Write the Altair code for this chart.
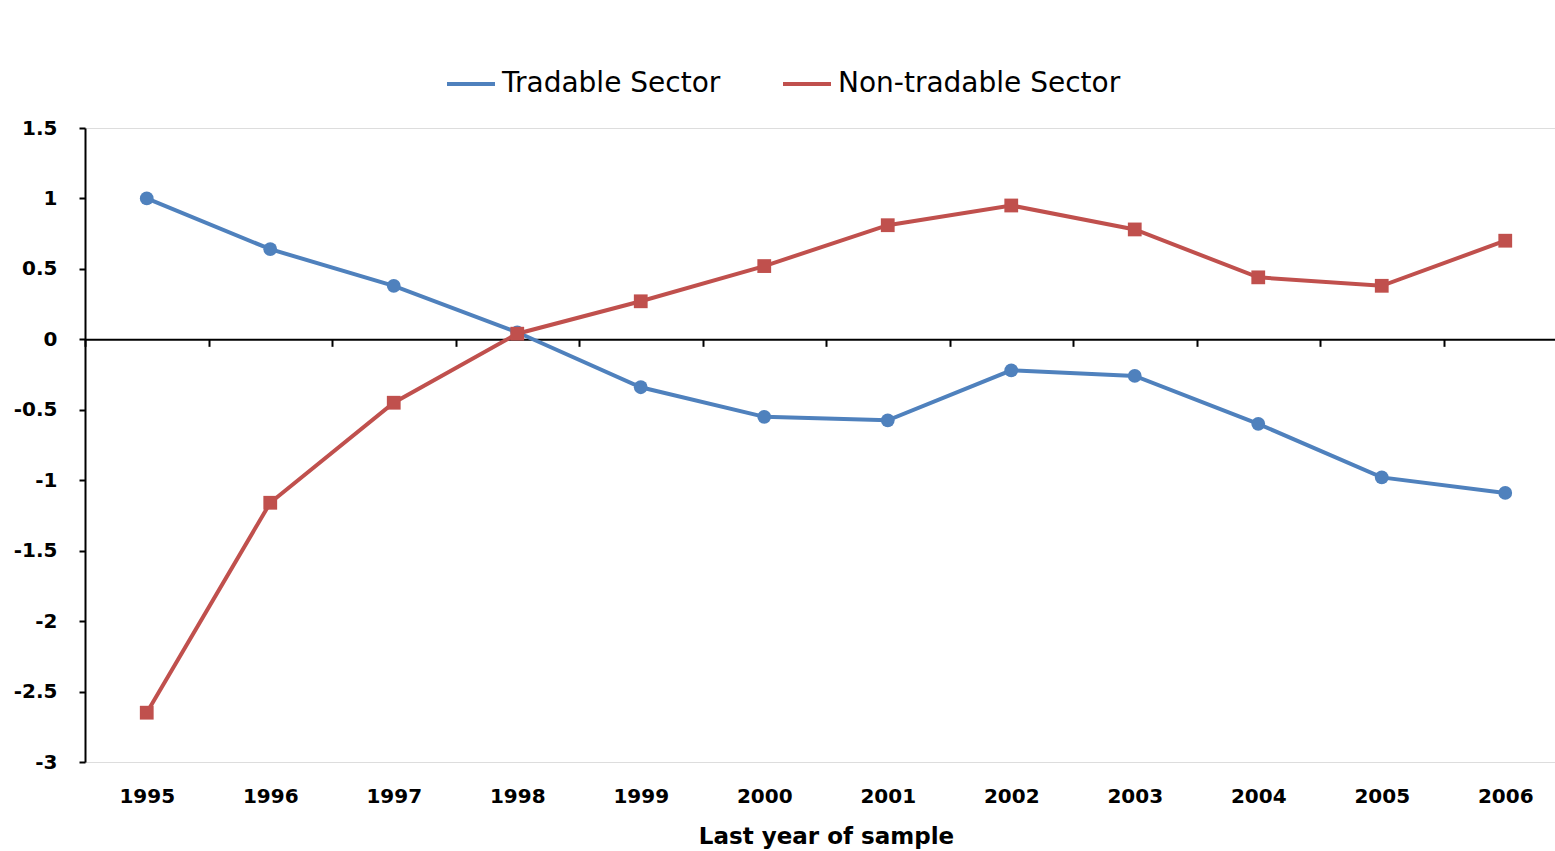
import altair as alt
import pandas as pd

# Regression coefficients by last year of the estimation sample
years = ["1995", "1996", "1997", "1998", "1999", "2000",
         "2001", "2002", "2003", "2004", "2005", "2006"]
tradable = [1.00, 0.64, 0.38, 0.05, -0.34, -0.55,
            -0.575, -0.22, -0.26, -0.60, -0.98, -1.09]
non_tradable = [-2.65, -1.16, -0.45, 0.04, 0.27, 0.52,
                0.81, 0.95, 0.78, 0.44, 0.38, 0.70]

series = ["Tradable Sector", "Non-tradable Sector"]
colors = ["#4F81BD", "#C0504D"]
markers = ["circle", "square"]
y_ticks = [-3, -2.5, -2, -1.5, -1, -0.5, 0, 0.5, 1, 1.5]

df = pd.DataFrame({
    "year": years * 2,
    "value": tradable + non_tradable,
    "series": [series[0]] * len(years) + [series[1]] * len(years),
})

FONT = "DejaVu Sans"
PLOT_W, PLOT_H = 1470, 634
Y_MIN, Y_MAX = -3, 1.5
zero_offset = -PLOT_H * (0 - Y_MIN) / (Y_MAX - Y_MIN)

x_enc = alt.X(
    "year:O",
    scale=alt.Scale(type="band", paddingInner=0, paddingOuter=0, range=[0, 1482]),
    axis=alt.Axis(
        title="Last year of sample",
        orient="bottom",
        offset=zero_offset,
        grid=False,
        domainColor="black",
        domainWidth=2,
        tickBand="extent",
        tickColor="black",
        tickWidth=2,
        tickSize=7,
        labelAngle=0,
        labelPadding=440,
        labelFont=FONT,
        labelFontSize=20,
        labelFontWeight="bold",
        labelColor="black",
        titleFont=FONT,
        titleFontSize=23,
        titleFontWeight="bold",
        titleColor="black",
        titleBaseline="top",
        titleY=486,
    ),
)

y_enc = alt.Y(
    "value:Q",
    scale=alt.Scale(domain=[Y_MIN, Y_MAX], nice=False, zero=False),
    axis=alt.Axis(
        title=None,
        values=y_ticks,
        grid=False,
        domainColor="black",
        domainWidth=2,
        tickColor="black",
        tickWidth=2,
        tickSize=6,
        labelPadding=22,
        labelFont=FONT,
        labelFontSize=20,
        labelFontWeight="bold",
        labelColor="black",
        labelExpr="toString(datum.value)",
    ),
)

color_scale = alt.Scale(domain=series, range=colors)
base = alt.Chart(df)

lines = base.mark_line(strokeWidth=4).encode(
    x=x_enc,
    y=y_enc,
    color=alt.Color("series:N", scale=color_scale, legend=alt.Legend(
        title=None,
        orient="none",
        legendX=360,
        legendY=-70,
        direction="horizontal",
        symbolType="stroke",
        symbolSize=2304,
        symbolStrokeWidth=4,
        labelFont=FONT,
        labelFontSize=28,
        labelColor="black",
        labelLimit=500,
        labelOffset=5,
        columnPadding=54,
    )),
)

marker_layers = [
    base.transform_filter(alt.datum.series == name)
    .mark_point(shape=shape, filled=True, size=190, opacity=1)
    .encode(
        x=x_enc,
        y=y_enc,
        color=alt.Color("series:N", scale=color_scale, legend=None),
    )
    for name, shape in zip(series, markers)
]

chart = (
    alt.layer(lines, *marker_layers)
    .properties(
        width=PLOT_W,
        height=PLOT_H,
        title=alt.TitleParams(
            "Coefficients for US-based series",
            font=FONT,
            fontSize=34,
            fontWeight="bold",
            color="black",
            anchor="middle",
            dx=-30,
            offset=72,
        ),
        autosize=alt.AutoSizeParams(type="none"),
        padding={"left": 85, "top": 128, "right": 0, "bottom": 89},
    )
    .configure_view(stroke="transparent")
    .configure(background="white")
)

chart.save("out.html", embed_options={"renderer": "svg", "actions": False})
